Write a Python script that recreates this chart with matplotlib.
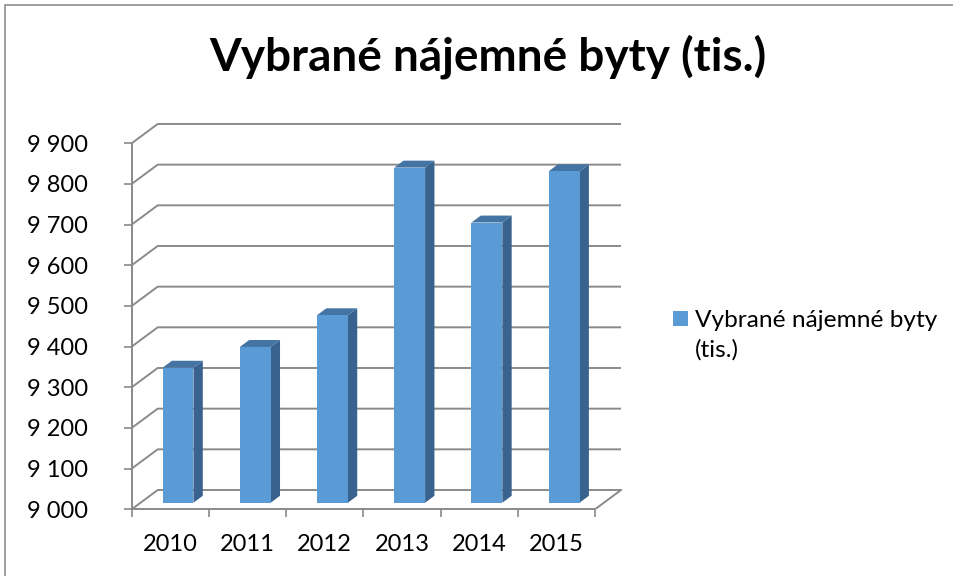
import matplotlib
matplotlib.use("Agg")
import matplotlib.pyplot as plt
from matplotlib.patches import Rectangle, Polygon

# data
years = ["2010", "2011", "2012", "2013", "2014", "2015"]
values = [9332, 9383, 9461, 9824, 9689, 9815]
yticks = list(range(9000, 10000, 100))
title = "Vybrané nájemné byty (tis.)"
series_name = ["Vybrané nájemné byty", "(tis.)"]

plt.rcParams['font.family'] = ['Lato', 'DejaVu Sans']

W, H = 954, 576
fig = plt.figure(figsize=(W / 100, H / 100), dpi=100)

# axes placed in pixels: front axis x 131.7..595, y 9000 at 509.3, 100 = 40.67px
px_x, px_y = 77.22, 40.67
ax = fig.add_axes([131.7 / W, (H - 509.3) / H, 6.4 * px_x / W, 9.6 * px_y / H])
ax.set_xlim(0, 6.4)
ax.set_ylim(9000, 9960)

DX = 26 / px_x          # depth offset in category units
DY = 19.3 / px_y * 100  # depth offset in value units
grid_c = '#8a8a8a'

# back wall + side wall gridlines
for v in yticks:
    ax.plot([0, DX, 6 + DX], [v, v + DY, v + DY], color=grid_c, lw=1.4,
            zorder=1, solid_capstyle='butt')
ax.plot([6, 6 + DX], [9000, 9000 + DY], color=grid_c, lw=1.4, zorder=1)

# 3d looking columns
d0, d1 = 0.34, 0.70
bw = 0.40
front_c, side_c, top_c = '#5b9bd5', '#39638e', '#4474a3'
for i, v in enumerate(values):
    x0 = i + 0.285
    x1 = x0 + bw
    base = 9000
    side = [(x1 + d0 * DX, base + d0 * DY), (x1 + d1 * DX, base + d1 * DY),
            (x1 + d1 * DX, v + d1 * DY), (x1 + d0 * DX, v + d0 * DY)]
    top = [(x0 + d0 * DX, v + d0 * DY), (x1 + d0 * DX, v + d0 * DY),
           (x1 + d1 * DX, v + d1 * DY), (x0 + d1 * DX, v + d1 * DY)]
    ax.add_patch(Polygon(side, closed=True, fc=side_c, ec='none', zorder=3))
    ax.add_patch(Polygon(top, closed=True, fc=top_c, ec='none', zorder=3))
    ax.add_patch(Rectangle((x0 + d0 * DX, base + d0 * DY), bw, v - base,
                           fc=front_c, ec='none', zorder=4))

# front axes
for s in ['top', 'right']:
    ax.spines[s].set_visible(False)
ax.spines['left'].set_bounds(9000, 9900)
ax.spines['bottom'].set_bounds(0, 6)
for s in ['left', 'bottom']:
    ax.spines[s].set_color(grid_c)
    ax.spines[s].set_linewidth(1.4)
ax.set_yticks(yticks)
ax.set_yticklabels(["{:,}".format(v).replace(",", " ") for v in yticks])
ax.tick_params(axis='y', length=5.5, width=1.2, color=grid_c, pad=26,
               labelsize=17, labelcolor='black')
ax.set_xticks(range(7))
ax.set_xticklabels([])
ax.set_xticks([i + 0.5 for i in range(6)], minor=True)
ax.set_xticklabels(years, minor=True)
ax.tick_params(axis='x', which='major', length=5.5, width=1.2, color=grid_c)
ax.tick_params(axis='x', which='minor', length=0, pad=18, labelsize=17,
               labelcolor='black')
ax.patch.set_visible(False)

# title
fig.text(488 / W, (H - 70.7) / H, title, ha='center', va='baseline',
         fontsize=33, fontweight='bold')

# legend
fig.patches.append(Rectangle((673.3 / W, (H - 325.7) / H), 14.4 / W, 14.7 / H,
                             transform=fig.transFigure, fc=front_c, ec='none'))
fig.text(695 / W, (H - 326.7) / H, series_name[0], ha='left', va='baseline',
         fontsize=17.6)
fig.text(695 / W, (H - 357) / H, series_name[1], ha='left', va='baseline',
         fontsize=17.6)

# chart border
fig.patches.append(Rectangle((5 / W, -0.1), 2, (H - 5) / H + 0.1,
                             transform=fig.transFigure, fill=False,
                             ec='#8f8f8f', lw=1.2))

fig.savefig("out.png", dpi=100)
